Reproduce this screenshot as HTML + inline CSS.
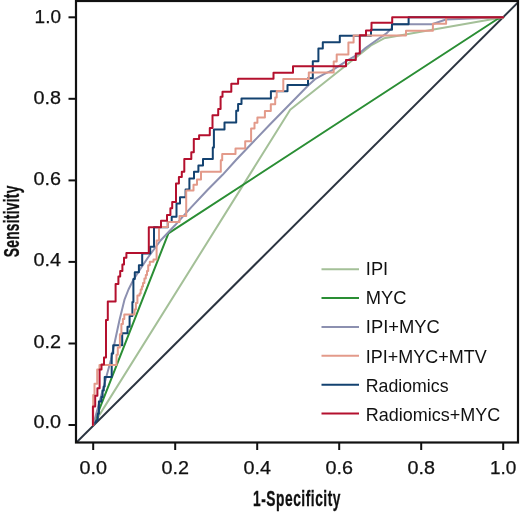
<!DOCTYPE html>
<html><head><meta charset="utf-8"><style>
html,body{margin:0;padding:0;background:#fff;}
svg{display:block;will-change:transform;}
text{font-family:"Liberation Sans",sans-serif;fill:#111;}
</style></head><body>
<svg width="520" height="513" viewBox="0 0 520 513">
<rect width="520" height="513" fill="#fff"/>
<defs><clipPath id="pc"><rect x="76" y="1" width="442" height="441.5"/></clipPath></defs>
<line x1="76" y1="442.9" x2="519.6" y2="0.86" stroke="#2b3440" stroke-width="2" clip-path="url(#pc)"/>
<path d="M93.2,424.9 L290.2,109.8 L371.0,45.5 L384.0,38.3 L503.2,17.2" fill="none" stroke="#a4c098" stroke-width="2.0" stroke-linejoin="round" stroke-linecap="round"/>
<path d="M93.2,424.9 L168.4,233.4 L497.5,19.0 L503.2,17.2" fill="none" stroke="#2a8e34" stroke-width="2.0" stroke-linejoin="round" stroke-linecap="round"/>
<path d="M93.2,424.9 L110.9,360.0 L119.5,320.0 L124.6,299.3 L128.5,289.5 L133.4,279.8 L141.0,268.0 L148.0,257.5 L160.5,240.5 L175.0,225.3 L190.9,207.6 L207.7,189.7 L222.6,174.8 L236.0,160.0 L269.4,125.0 L307.9,85.7 L315.0,79.2 L324.0,74.2 L332.0,70.4 L340.6,64.8 L348.4,59.8 L356.2,55.3 L360.3,52.4 L365.8,47.7 L373.6,42.3 L381.4,36.8 L386.1,33.7 L389.2,30.6 L391.7,28.5 L392.0,24.2 L432.0,24.2 L446.0,19.5 L503.2,17.2" fill="none" stroke="#8c90b0" stroke-width="2.0" stroke-linejoin="round" stroke-linecap="round"/>
<path d="M93.2,424.9 L97.8,419.1 L97.8,413.7 L98.9,413.7 L98.9,401.5 L101.4,401.5 L101.4,397.0 L102.6,397.0 L102.6,390.5 L103.8,390.5 L103.8,386.4 L104.7,386.4 L104.7,377.0 L111.7,377.0 L111.7,353.5 L113.2,353.5 L113.2,345.2 L122.2,345.2 L122.2,333.2 L127.5,333.2 L127.5,326.7 L129.6,326.7 L129.6,316.0 L132.4,316.0 L132.4,302.0 L133.4,302.0 L133.4,279.0 L134.8,279.0 L134.8,272.2 L138.9,272.2 L138.9,265.2 L142.2,265.2 L142.2,253.5 L150.2,253.5 L150.2,246.8 L154.0,246.8 L154.0,227.2 L167.8,227.2 L167.8,222.0 L171.7,222.0 L171.7,216.7 L176.5,216.7 L176.5,203.5 L180.0,203.5 L180.0,197.3 L185.6,197.3 L185.6,189.6 L189.4,189.6 L189.4,178.5 L194.0,178.5 L194.0,171.8 L198.4,171.8 L198.4,165.5 L203.0,165.5 L203.0,159.1 L212.8,159.1 L212.8,147.4 L213.9,147.4 L213.9,129.4 L224.5,129.4 L224.5,122.5 L236.2,122.5 L236.2,110.8 L238.1,110.8 L238.1,104.0 L241.5,104.0 L241.5,98.6 L270.9,98.6 L270.9,91.2 L287.5,91.2 L287.5,85.0 L308.0,85.0 L308.0,78.2 L312.8,78.2 L312.8,61.3 L318.4,61.3 L318.4,48.6 L322.8,48.6 L322.8,42.2 L339.8,42.2 L339.8,35.7 L371.0,35.7 L371.0,29.8 L392.0,29.8 L392.0,24.2 L408.6,24.2 L408.6,17.2 L503.2,17.2" fill="none" stroke="#134270" stroke-width="2.0" stroke-linejoin="round" stroke-linecap="round"/>
<path d="M93.2,424.9 L93.2,395.0 L94.5,395.0 L94.5,383.8 L97.2,383.8 L97.2,369.5 L99.5,369.5 L99.5,365.0 L116.5,365.0 L116.5,354.7 L117.8,354.7 L117.8,347.4 L119.9,347.4 L119.9,334.2 L121.4,334.2 L121.4,324.0 L122.9,324.0 L122.9,319.0 L124.3,319.0 L124.3,314.6 L134.6,314.6 L134.6,309.6 L135.9,309.6 L135.9,303.0 L137.4,303.0 L137.4,295.6 L139.6,295.6 L139.6,293.5 L140.7,293.5 L140.7,289.6 L141.9,289.6 L141.9,286.5 L143.0,286.5 L143.0,283.0 L144.4,283.0 L144.4,278.5 L145.8,278.5 L145.8,274.9 L147.0,274.9 L147.0,271.0 L148.2,271.0 L148.2,265.2 L149.8,265.2 L149.8,261.7 L153.5,261.7 L153.5,259.4 L156.6,259.4 L156.6,240.6 L159.0,240.6 L159.0,227.0 L167.8,227.0 L167.8,222.0 L179.5,222.0 L179.5,216.0 L186.2,216.0 L186.2,190.5 L193.5,190.5 L193.5,184.7 L197.0,184.7 L197.0,179.4 L201.0,179.4 L201.0,171.8 L220.8,171.8 L220.8,160.2 L222.2,160.2 L222.2,153.9 L235.5,153.9 L235.5,148.5 L245.2,148.5 L245.2,141.2 L251.1,141.2 L251.1,128.5 L254.5,128.5 L254.5,122.7 L257.4,122.7 L257.4,117.4 L264.9,117.4 L264.9,111.0 L270.8,111.0 L270.8,104.2 L275.2,104.2 L275.2,97.4 L276.7,97.4 L276.7,91.1 L283.3,91.1 L283.3,78.9 L308.8,78.9 L308.8,72.6 L333.7,72.6 L333.7,61.5 L336.7,61.5 L336.7,54.5 L348.4,54.5 L348.4,42.4 L353.6,42.4 L353.6,35.5 L406.0,35.5 L406.0,30.8 L432.9,30.8 L432.9,23.8 L446.1,23.8 L446.1,17.4 L503.2,17.4" fill="none" stroke="#e39a8a" stroke-width="2.0" stroke-linejoin="round" stroke-linecap="round"/>
<path d="M92.9,424.9 L92.9,406.6 L95.2,406.6 L95.2,395.8 L97.4,395.8 L97.4,388.2 L99.6,388.2 L99.6,369.4 L101.5,369.4 L101.5,364.5 L104.0,364.5 L104.0,357.6 L106.0,357.6 L106.0,320.0 L107.8,320.0 L107.8,301.6 L115.6,301.6 L115.6,284.0 L118.4,284.0 L118.4,276.4 L120.2,276.4 L120.2,271.0 L122.4,271.0 L122.4,264.4 L124.0,264.4 L124.0,257.7 L126.4,257.7 L126.4,253.0 L148.8,253.0 L148.8,227.2 L161.0,227.2 L161.0,220.8 L167.0,220.8 L167.0,215.0 L170.4,215.0 L170.4,208.3 L172.2,208.3 L172.2,202.0 L176.0,202.0 L176.0,183.4 L178.9,183.4 L178.9,177.1 L181.8,177.1 L181.8,171.7 L184.3,171.7 L184.3,159.1 L191.3,159.1 L191.3,152.3 L193.8,152.3 L193.8,139.1 L199.1,139.1 L199.1,135.2 L209.8,135.2 L209.8,127.9 L212.5,127.9 L212.5,115.2 L218.2,115.2 L218.2,108.9 L220.6,108.9 L220.6,96.7 L222.5,96.7 L222.5,91.7 L231.3,91.7 L231.3,83.7 L238.1,83.7 L238.1,78.7 L273.5,78.7 L273.5,72.8 L293.0,72.8 L293.0,66.3 L346.0,66.3 L346.0,59.9 L355.8,59.9 L355.8,53.5 L359.8,53.5 L359.8,35.3 L366.0,35.3 L366.0,30.5 L371.5,30.5 L371.5,22.8 L392.2,22.8 L392.2,17.2 L503.2,17.2" fill="none" stroke="#b4102e" stroke-width="2.0" stroke-linejoin="round" stroke-linecap="round"/>
<rect x="76" y="1" width="442" height="441.5" fill="none" stroke="#111" stroke-width="2.2"/>
<g stroke="#111" stroke-width="2">
<line x1="68.5" x2="76" y1="425.0" y2="425.0"/>
<line x1="68.5" x2="76" y1="343.5" y2="343.5"/>
<line x1="68.5" x2="76" y1="261.9" y2="261.9"/>
<line x1="68.5" x2="76" y1="180.4" y2="180.4"/>
<line x1="68.5" x2="76" y1="98.8" y2="98.8"/>
<line x1="68.5" x2="76" y1="17.3" y2="17.3"/>
<line y1="443" y2="450" x1="93.2" x2="93.2"/>
<line y1="443" y2="450" x1="175.2" x2="175.2"/>
<line y1="443" y2="450" x1="257.2" x2="257.2"/>
<line y1="443" y2="450" x1="339.2" x2="339.2"/>
<line y1="443" y2="450" x1="421.2" x2="421.2"/>
<line y1="443" y2="450" x1="503.2" x2="503.2"/>
</g>
<g font-size="18.5" text-anchor="end" stroke="#111" stroke-width="0.25">
<text x="61" y="428.0" textLength="27.5" lengthAdjust="spacingAndGlyphs">0.0</text>
<text x="61" y="347.5" textLength="27.5" lengthAdjust="spacingAndGlyphs">0.2</text>
<text x="61" y="266.3" textLength="27.5" lengthAdjust="spacingAndGlyphs">0.4</text>
<text x="61" y="185.3" textLength="27.5" lengthAdjust="spacingAndGlyphs">0.6</text>
<text x="61" y="104.2" textLength="27.5" lengthAdjust="spacingAndGlyphs">0.8</text>
<text x="61" y="23.3" textLength="26.4" lengthAdjust="spacingAndGlyphs">1.0</text>
</g><g font-size="18.5" text-anchor="middle" stroke="#111" stroke-width="0.25">
<text x="93.2" y="474.3" textLength="27.5" lengthAdjust="spacingAndGlyphs">0.0</text>
<text x="175.2" y="474.3" textLength="27.5" lengthAdjust="spacingAndGlyphs">0.2</text>
<text x="257.2" y="474.3" textLength="27.5" lengthAdjust="spacingAndGlyphs">0.4</text>
<text x="339.2" y="474.3" textLength="27.5" lengthAdjust="spacingAndGlyphs">0.6</text>
<text x="421.2" y="474.3" textLength="27.5" lengthAdjust="spacingAndGlyphs">0.8</text>
<text x="503.2" y="474.3" textLength="26.4" lengthAdjust="spacingAndGlyphs">1.0</text>
</g>
<text transform="translate(253,506.3) scale(0.64,1)" font-size="21.5" font-weight="bold" stroke="#111" stroke-width="0.3" textLength="136.7" lengthAdjust="spacing">1-Specificity</text>
<text transform="translate(19.2,257.2) rotate(-90) scale(0.64,1)" font-size="21.5" font-weight="bold" stroke="#111" stroke-width="0.3" textLength="111.7" lengthAdjust="spacing">Sensitivity</text>
<line x1="321.5" x2="359" y1="269.2" y2="269.2" stroke="#a4c098" stroke-width="2"/>
<text x="365.8" y="274.7" font-size="17.8" textLength="22.36" lengthAdjust="spacingAndGlyphs">IPI</text>
<line x1="321.5" x2="359" y1="298.1" y2="298.1" stroke="#2a8e34" stroke-width="2"/>
<text x="365.8" y="304.0" font-size="17.8" textLength="40.7" lengthAdjust="spacingAndGlyphs">MYC</text>
<line x1="321.5" x2="359" y1="327.0" y2="327.0" stroke="#8c90b0" stroke-width="2"/>
<text x="365.8" y="333.3" font-size="17.8" textLength="74.0" lengthAdjust="spacingAndGlyphs">IPI+MYC</text>
<line x1="321.5" x2="359" y1="355.8" y2="355.8" stroke="#e39a8a" stroke-width="2"/>
<text x="365.8" y="362.5" font-size="17.8" textLength="120.9" lengthAdjust="spacingAndGlyphs">IPI+MYC+MTV</text>
<line x1="321.5" x2="359" y1="384.7" y2="384.7" stroke="#134270" stroke-width="2"/>
<text x="365.8" y="391.8" font-size="17.8" textLength="82.7" lengthAdjust="spacingAndGlyphs">Radiomics</text>
<line x1="321.5" x2="359" y1="413.6" y2="413.6" stroke="#b4102e" stroke-width="2"/>
<text x="365.8" y="421.1" font-size="17.8" textLength="134.5" lengthAdjust="spacingAndGlyphs">Radiomics+MYC</text>
</svg>
</body></html>
